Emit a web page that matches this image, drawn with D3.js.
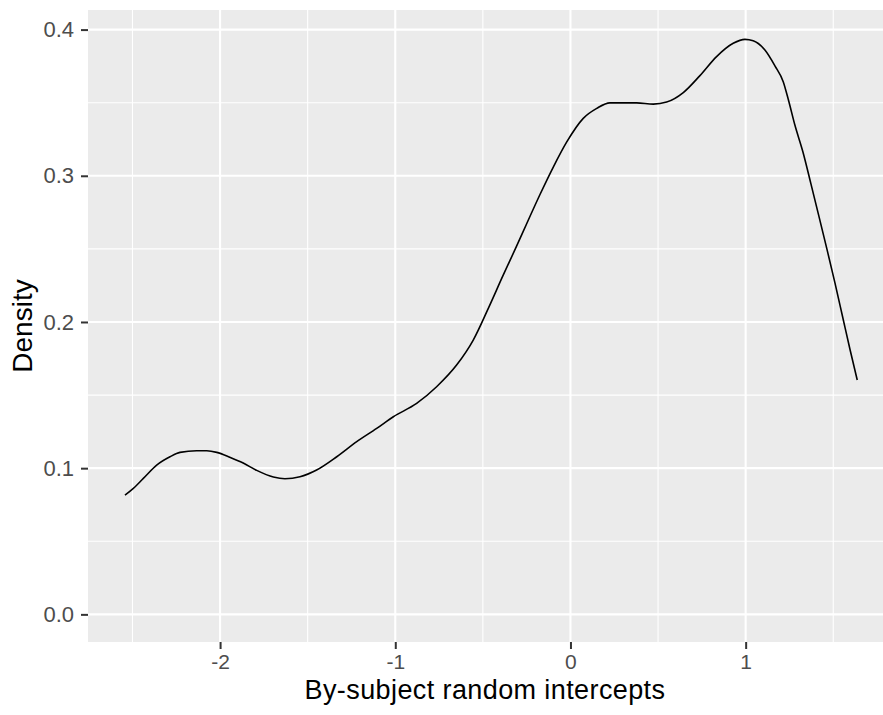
<!DOCTYPE html>
<html>
<head>
<meta charset="utf-8">
<script src="https://cdn.jsdelivr.net/npm/d3@7"></script>
<style>
  html, body { margin: 0; padding: 0; background: #ffffff; }
  svg { display: block; }
</style>
</head>
<body>
<svg id="chart" width="883" height="715"></svg>
<script>
// Kernel density estimate of the by-subject random intercepts
const interceptX = [
  -2.543, -2.495, -2.438, -2.362, -2.286, -2.229, -2.134, -2.076, -2.019, -1.945,
  -1.868, -1.791, -1.696, -1.630, -1.544, -1.449, -1.334, -1.220, -1.106, -1.011,
  -0.878, -0.764, -0.650, -0.555, -0.469, -0.384, -0.307, -0.250, -0.174, -0.098,
  -0.022, 0.073, 0.150, 0.225, 0.378, 0.473, 0.549, 0.644, 0.739, 0.834,
  0.929, 0.996, 1.043, 1.110, 1.167, 1.215, 1.245, 1.281, 1.327, 1.373,
  1.418, 1.464, 1.510, 1.555, 1.595, 1.637
];
const densityY = [
  0.0816, 0.0862, 0.0930, 0.1021, 0.1078, 0.1108, 0.1119, 0.1119, 0.1108, 0.1075,
  0.1035, 0.0985, 0.0940, 0.0928, 0.0941, 0.0987, 0.1078, 0.1181, 0.1272, 0.1352,
  0.1443, 0.1557, 0.1705, 0.1876, 0.2093, 0.2320, 0.2520, 0.2672, 0.2872, 0.3060,
  0.3230, 0.3393, 0.3461, 0.3499, 0.3499, 0.3490, 0.3504, 0.3569, 0.3685, 0.3815,
  0.3906, 0.3933, 0.3923, 0.3860, 0.3752, 0.3642, 0.3515, 0.3347, 0.3163, 0.2943,
  0.2724, 0.2498, 0.2266, 0.2027, 0.1815, 0.1603
];

const xMajorTicks = [-2, -1, 0, 1];
const xMinorTicks = [-2.5, -1.5, -0.5, 0.5, 1.5];
const yMajorTicks = [0.0, 0.1, 0.2, 0.3, 0.4];
const yMinorTicks = [0.05, 0.15, 0.25, 0.35];
const xTitle = "By-subject random intercepts";
const yTitle = "Density";

const svg = d3.select("#chart");
const panel = { left: 88, top: 10, right: 883, bottom: 642 };

const x = d3.scaleLinear().domain([-2.754, 1.784]).range([panel.left, panel.right]);
const y = d3.scaleLinear().domain([-0.0189, 0.4134]).range([panel.bottom, panel.top]);

// panel background
svg.append("rect")
  .attr("x", panel.left).attr("y", panel.top)
  .attr("width", panel.right - panel.left).attr("height", panel.bottom - panel.top)
  .attr("fill", "#EBEBEB");

const grid = svg.append("g");
// minor grid
grid.selectAll(".xminor").data(xMinorTicks).join("line")
  .attr("x1", d => x(d)).attr("x2", d => x(d))
  .attr("y1", panel.top).attr("y2", panel.bottom)
  .attr("stroke", "#ffffff").attr("stroke-width", 1.1);
grid.selectAll(".yminor").data(yMinorTicks).join("line")
  .attr("y1", d => y(d)).attr("y2", d => y(d))
  .attr("x1", panel.left).attr("x2", panel.right)
  .attr("stroke", "#ffffff").attr("stroke-width", 1.1);
// major grid
grid.selectAll(".xmajor").data(xMajorTicks).join("line")
  .attr("x1", d => x(d)).attr("x2", d => x(d))
  .attr("y1", panel.top).attr("y2", panel.bottom)
  .attr("stroke", "#ffffff").attr("stroke-width", 2.1);
grid.selectAll(".ymajor").data(yMajorTicks).join("line")
  .attr("y1", d => y(d)).attr("y2", d => y(d))
  .attr("x1", panel.left).attr("x2", panel.right)
  .attr("stroke", "#ffffff").attr("stroke-width", 2.1);

// density curve
const pts = interceptX.map((v, i) => [v, densityY[i]]);
const line = d3.line().x(d => x(d[0])).y(d => y(d[1])).curve(d3.curveMonotoneX);
svg.append("path")
  .attr("d", line(pts))
  .attr("fill", "none")
  .attr("stroke", "#000000")
  .attr("stroke-width", 1.6);

// axes
const fontFam = "'Liberation Sans', Arial, sans-serif";
const xAxis = d3.axisBottom(x).tickValues(xMajorTicks).tickSize(7).tickPadding(5)
  .tickFormat(d => d3.format("d")(d).replace("−", "-"));
const gx = svg.append("g").attr("transform", `translate(0,${panel.bottom})`).call(xAxis);
gx.select(".domain").remove();
gx.selectAll(".tick line").attr("stroke", "#333333").attr("stroke-width", 2);
gx.selectAll(".tick text").attr("fill", "#4D4D4D").style("font-family", fontFam).style("font-size", "21px");

const yAxis = d3.axisLeft(y).tickValues(yMajorTicks).tickSize(7).tickPadding(7)
  .tickFormat(d3.format(".1f"));
const gy = svg.append("g").attr("transform", `translate(${panel.left},0)`).call(yAxis);
gy.select(".domain").remove();
gy.selectAll(".tick line").attr("stroke", "#333333").attr("stroke-width", 2);
gy.selectAll(".tick text").attr("fill", "#4D4D4D").style("font-family", fontFam).style("font-size", "22px");

// axis titles
svg.append("text")
  .attr("x", 485).attr("y", 699)
  .attr("text-anchor", "middle")
  .style("font-family", fontFam).style("font-size", "27px")
  .style("letter-spacing", "0.4px")
  .attr("fill", "#000000")
  .text(xTitle);

svg.append("text")
  .attr("transform", `translate(32,${(panel.top + panel.bottom) / 2}) rotate(-90)`)
  .attr("text-anchor", "middle")
  .style("font-family", fontFam).style("font-size", "28px")
  .attr("fill", "#000000")
  .text(yTitle);
</script>
</body>
</html>
